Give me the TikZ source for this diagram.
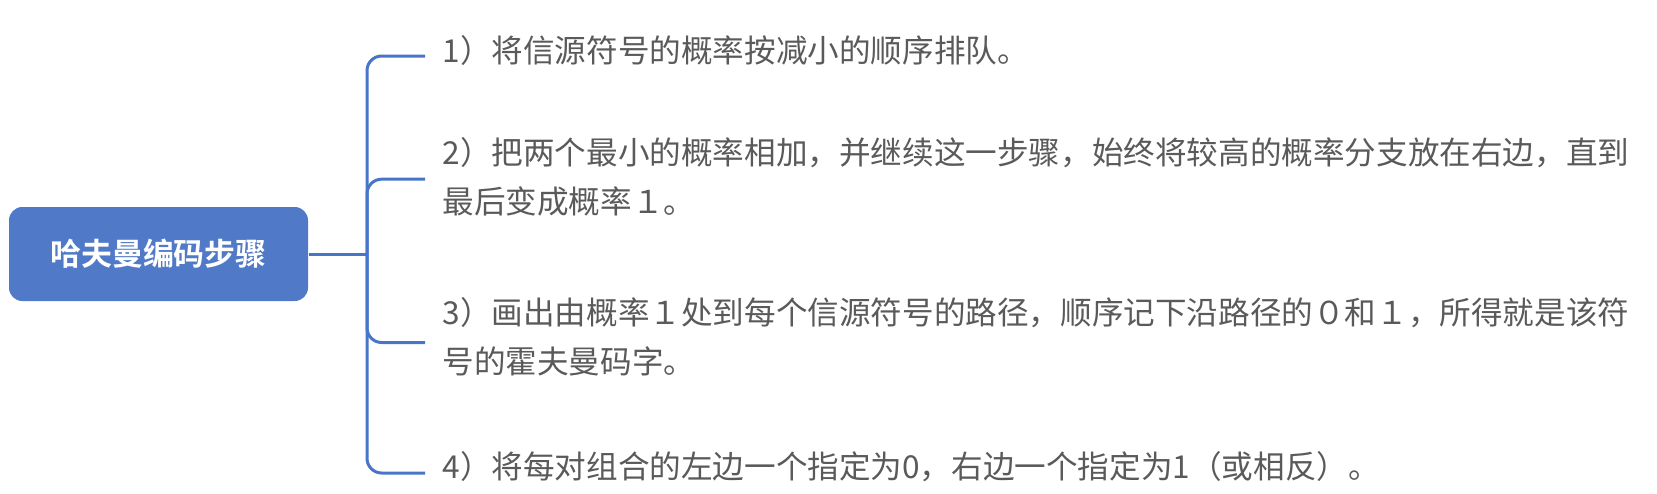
\documentclass[tikz,border=0pt]{standalone}
\usepackage{fontspec}
\newfontfamily\cjk{Noto Sans CJK SC}
\newfontfamily\cjkbold{Noto Sans CJK SC Bold}
\definecolor{rootblue}{RGB}{80,122,199}
\definecolor{linkblue}{RGB}{72,117,200}
\definecolor{stepgray}{RGB}{90,90,90}

\tikzset{every picture/.style={line width=0.75pt}}
\tikzset{
  rootbox/.style={fill=rootblue, text=white, rounded corners=10pt, minimum width=224.25pt, minimum height=70.5pt, inner sep=0pt, font=\cjkbold\fontsize{23.2}{28}\selectfont},
  stepnote/.style={anchor=west, text=stepgray, align=left, inner xsep=12.75pt, inner ysep=0pt, font=\cjk\fontsize{23.7}{36.75}\selectfont},
  branch/.style={draw=linkblue, line width=2.25pt, rounded corners=11pt}
}

\begin{document}
\begin{tikzpicture}[x=0.75pt,y=0.75pt,yscale=-1,xscale=1]
\useasboundingbox (0,0) rectangle (1657,493);

% Root Node
\node [rootbox] (root) at (158.5,254) {哈夫曼编码步骤};
\coordinate (fork) at (367,254);

% Text Node
\node [stepnote] (s1) at (425,50) {1）将信源符号的概率按减小的顺序排队。};
% Text Node
\node [stepnote] (s2) at (425,176.5) {2）把两个最小的概率相加，并继续这一步骤，始终将较高的概率分支放在右边，直到\\最后变成概率１。};
% Text Node
\node [stepnote] (s3) at (425,336.5) {3）画出由概率１处到每个信源符号的路径，顺序记下沿路径的０和１，所得就是该符\\号的霍夫曼码字。};
% Text Node
\node [stepnote] (s4) at (425,467) {4）将每对组合的左边一个指定为0，右边一个指定为1（或相反）。};

%Straight Lines
\draw [branch] (root.east) -- (fork);
\draw [branch] (fork) |- ([yshift=4.5pt]s1.west);
\draw [branch] (fork) |- ([yshift=2pt]s2.west);
\draw [branch] (fork) |- ([yshift=4.5pt]s3.west);
\draw [branch] (fork) |- ([yshift=4.5pt]s4.west);

\end{tikzpicture}
\end{document}
